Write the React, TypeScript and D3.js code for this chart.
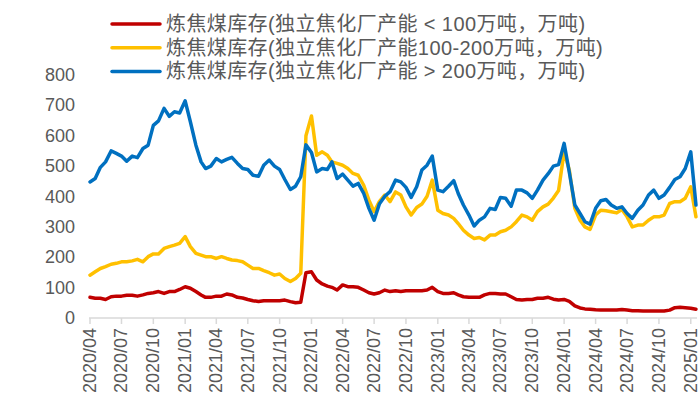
import React from "react";
import * as d3 from "d3";

const seriesNames = [
  "炼焦煤库存(独立焦化厂产能 < 100万吨，万吨)",
  "炼焦煤库存(独立焦化厂产能100-200万吨，万吨)",
  "炼焦煤库存(独立焦化厂产能 > 200万吨，万吨)",
];
const seriesColors = ["#C00000", "#FFC000", "#0070C0"];

const yTicks = [0, 100, 200, 300, 400, 500, 600, 700, 800];
const xTickLabels = [
  "2020/04", "2020/07", "2020/10", "2021/01", "2021/04", "2021/07", "2021/10",
  "2022/01", "2022/04", "2022/07", "2022/10", "2023/01", "2023/04", "2023/07",
  "2023/10", "2024/01", "2024/04", "2024/07", "2024/10", "2025/01",
];

// semi-monthly observation dates (1st and 16th of each month), 2020/04 - 2025/01
const startMonth = "2020-04";
const monthCount = 58;

const small: number[] = [
  68, 65, 65, 61, 70, 72, 72, 75, 75, 72, 76, 81, 83, 87, 81, 87, 87, 94, 103, 98,
  87, 76, 68, 68, 72, 72, 79, 76, 68, 66, 61, 57, 54, 57, 57, 57, 57, 59, 54, 50,
  52, 149, 152, 125, 112, 105, 101, 92, 109, 103, 103, 101, 92, 83, 79, 83, 92, 87, 90, 87,
  90, 90, 90, 90, 92, 101, 87, 81, 81, 83, 76, 70, 68, 68, 68, 76, 81, 81, 79, 79,
  70, 61, 59, 61, 61, 65, 65, 68, 62, 59, 61, 55, 40, 33, 30, 29, 27, 26, 26, 26,
  26, 28, 26, 24, 24, 23, 23, 23, 23, 23, 26, 34, 35, 34, 32, 29,
];

const medium: number[] = [
  141, 152, 163, 169, 177, 180, 185, 185, 188, 193, 185, 202, 211, 211, 229, 235, 240, 246, 268, 235,
  213, 207, 202, 202, 196, 202, 196, 191, 189, 185, 174, 163, 163, 156, 149, 141, 145, 130, 120, 130,
  147, 600, 665, 536, 547, 536, 514, 509, 503, 492, 476, 470, 437, 388, 350, 383, 405, 383, 415, 405,
  366, 339, 364, 375, 401, 454, 355, 344, 339, 328, 311, 289, 273, 262, 265, 257, 273, 273, 284, 289,
  300, 317, 339, 333, 322, 350, 366, 375, 395, 420, 547, 487, 361, 322, 300, 292, 339, 355, 353, 350,
  346, 357, 333, 300, 306, 306, 322, 333, 333, 339, 377, 383, 383, 394, 432, 333,
];

const large: number[] = [
  448, 459, 496, 514, 550, 542, 533, 516, 533, 528, 558, 569, 634, 649, 690, 664, 679, 675, 715, 646,
  569, 514, 492, 500, 525, 514, 522, 529, 509, 492, 489, 470, 467, 503, 520, 500, 489, 456, 423, 434,
  465, 570, 545, 481, 492, 489, 514, 459, 474, 454, 434, 443, 410, 361, 322, 375, 401, 416, 454, 448,
  430, 397, 432, 487, 503, 533, 421, 416, 434, 452, 410, 372, 339, 303, 322, 333, 361, 357, 397, 394,
  368, 421, 421, 412, 394, 421, 454, 475, 500, 505, 575, 480, 372, 344, 317, 309, 361, 386, 390, 372,
  361, 366, 344, 328, 355, 372, 405, 421, 394, 405, 430, 456, 465, 492, 547, 372,
];

const parseMonth = d3.timeParse("%Y-%m");
const parseTick = d3.timeParse("%Y/%m");

export default function App() {
  const W = 700;
  const H = 418;
  const x0 = parseMonth(startMonth) as Date;
  const dates: Date[] = [];
  for (let m = 0; m < monthCount; m++) {
    const mStart = d3.timeMonth.offset(x0, m);
    dates.push(mStart);
    dates.push(d3.timeDay.offset(mStart, 15));
  }

  const x = d3
    .scaleTime()
    .domain([x0, new Date(2025, 0, 19)])
    .range([90, 697]);
  const y = d3.scaleLinear().domain([0, 800]).range([318, 75]);

  const line = d3
    .line<number>()
    .x((_, i) => x(dates[i]))
    .y((v) => y(v))
    .curve(d3.curveLinear);

  const all = [small, medium, large];
  const textColor = "#595959";
  const latin = "'Liberation Sans', Arial, sans-serif";
  const legendFont = "'Liberation Sans', 'Noto Sans CJK SC', sans-serif";

  return (
    <svg
      width={W}
      height={H}
      style={{ position: "absolute", left: 0, top: 0, background: "#fff" }}
    >
      <rect x={0} y={0} width={W} height={H} fill="#fff" />
      {/* y labels */}
      {yTicks.map((t) => (
        <text
          key={t}
          x={75}
          y={y(t)}
          textAnchor="end"
          dominantBaseline="central"
          fontFamily={latin}
          fontSize={18}
          fill={textColor}
        >
          {t}
        </text>
      ))}
      {/* x axis */}
      <line x1={89} x2={697} y1={y(0)} y2={y(0)} stroke="#D9D9D9" strokeWidth={1.5} />
      {xTickLabels.map((lbl) => {
        const xx = x(parseTick(lbl) as Date);
        return (
          <g key={lbl}>
            <line x1={xx} x2={xx} y1={y(0)} y2={y(0) + 6} stroke="#D9D9D9" strokeWidth={1.5} />
            <text
              transform={`translate(${xx},${y(0) + 10}) rotate(-90)`}
              textAnchor="end"
              dominantBaseline="central"
              fontFamily={latin}
              fontSize={18}
              fill={textColor}
            >
              {lbl}
            </text>
          </g>
        );
      })}
      {/* series */}
      {all.map((s, k) => (
        <path
          key={k}
          d={line(s) || ""}
          fill="none"
          stroke={seriesColors[k]}
          strokeWidth={3.5}
          strokeLinejoin="round"
          strokeLinecap="round"
        />
      ))}
      {/* legend */}
      {seriesNames.map((n, k) => {
        const ly = 24 + k * 23.7;
        return (
          <g key={n}>
            <line x1={112} x2={160} y1={ly} y2={ly} stroke={seriesColors[k]} strokeWidth={3.5} strokeLinecap="round" />
            <text
              x={166}
              y={ly}
              dominantBaseline="central"
              fontFamily={legendFont}
              fontSize={20}
              letterSpacing={0.4}
              fill={textColor}
            >
              {n}
            </text>
          </g>
        );
      })}
    </svg>
  );
}
